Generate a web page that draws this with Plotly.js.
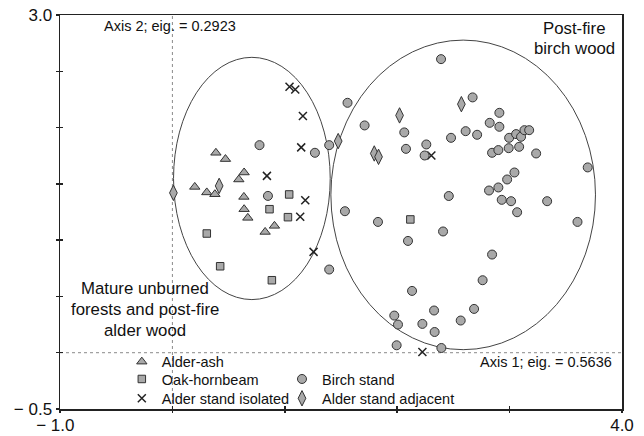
<!DOCTYPE html>
<html>
<head>
<meta charset="utf-8">
<script src="https://cdn.plot.ly/plotly-3.0.1.min.js"></script>
<style>html,body{margin:0;padding:0;background:#fff;}#chart{width:644px;height:436px;}</style>
</head>
<body>
<div id="chart"></div>
<script>
// ---- Data ----
const seriesNames = ['Alder-ash', 'Oak-hornbeam', 'Alder stand isolated', 'Birch stand', 'Alder stand adjacent'];

const alderAshX = [0.387, 0.472, 0.199, 0.306, 0.378, 0.638, 0.591, 0.636, 0.638, 0.671, 0.825, 0.908];
const alderAshY = [1.776, 1.720, 1.473, 1.424, 1.408, 1.601, 1.539, 1.384, 1.275, 1.198, 1.073, 1.127];

const oakHornbeamX = [1.039, 0.864, 1.028, 0.306, 0.425, 0.885, 2.117];
const oakHornbeamY = [1.406, 1.275, 1.204, 1.059, 0.768, 0.644, 1.184];

const alderIsolatedX = [1.042, 1.093, 1.161, 1.146, 0.841, 1.182, 1.137, 1.256, 2.304, 2.224];
const alderIsolatedY = [2.362, 2.339, 2.102, 1.824, 1.571, 1.355, 1.207, 0.896, 1.752, 0.007];

const birchX = [0.775, 1.268, 1.395, 0.850, 1.395, 2.390, 2.671, 1.558, 1.710, 2.909,
                2.823, 2.909, 2.063, 2.609, 2.711, 2.479, 2.996, 3.058, 3.102, 3.132,
                3.174, 2.078, 2.259, 2.244, 2.844, 2.900, 2.992, 3.085, 3.236, 3.695,
                3.043, 2.978, 2.900, 2.817, 2.459, 2.930, 3.013, 3.334, 3.067, 1.535,
                1.829, 3.604, 2.408, 2.096, 2.844, 2.760, 2.132, 2.328, 2.684, 1.974,
                2.007, 2.224, 2.565, 2.333, 1.995, 2.393];
const birchY = [1.844, 1.776, 1.844, 1.393, 0.739, 2.608, 2.268, 2.220, 2.019, 2.131,
                2.042, 2.007, 1.957, 1.968, 1.936, 1.909, 1.909, 1.942, 1.918, 1.977,
                1.977, 1.811, 1.850, 1.752, 1.776, 1.800, 1.817, 1.829, 1.770, 1.646,
                1.601, 1.539, 1.468, 1.441, 1.392, 1.358, 1.346, 1.346, 1.248, 1.257,
                1.162, 1.162, 1.077, 0.993, 0.872, 0.644, 0.549, 0.375, 0.389, 0.330,
                0.250, 0.256, 0.286, 0.184, 0.066, 0.042];

const alderAdjacentX = [0.009, 0.416, 1.475, 2.571, 2.021, 1.796, 1.834];
const alderAdjacentY = [1.420, 1.482, 1.880, 2.208, 2.108, 1.770, 1.740];

// group ellipses: centre x, centre y, radius x, radius y
const ellipseCx = [0.707, 2.587];
const ellipseCy = [1.548, 1.402];
const ellipseRx = [0.697, 1.177];
const ellipseRy = [1.076, 1.375];

const xTickVals = [-1, 0, 1, 2, 3, 4];
const xTickText = ['\u2212 1.0\u00a0\u00a0', '', '', '', '', '4.0'];
const yTickVals = [-0.5, 0, 0.5, 1, 1.5, 2, 2.5, 3];
const yTickText = ['\u2212 0.5', '', '', '', '', '', '', '3.0'];

const matureLines = ['Mature unburned', 'forests and post-fire', 'alder wood'];
const birchLines = ['Post-fire', 'birch wood'];
const axisLabels = ['Axis 1; eig. = 0.5636', 'Axis 2; eig. = 0.2923'];

// ---- Styling ----
const FONT = 'Liberation Sans, Arial, Helvetica, sans-serif';
const FILL = '#a9a9a9';
const EDGE = '#333333';

const traces = [
  {x: alderAshX, y: alderAshY, name: seriesNames[0], type: 'scatter', mode: 'markers', legend: 'legend',
   marker: {symbol: 'triangle-up', size: 9, color: FILL, line: {color: EDGE, width: 1}}},
  {x: oakHornbeamX, y: oakHornbeamY, name: seriesNames[1], type: 'scatter', mode: 'markers', legend: 'legend2',
   marker: {symbol: 'square', size: 7.5, color: FILL, line: {color: EDGE, width: 1}}},
  {x: alderIsolatedX, y: alderIsolatedY, name: seriesNames[2], type: 'scatter', mode: 'markers', legend: 'legend3',
   marker: {symbol: 'x-thin', size: 8, color: '#222', line: {color: '#222', width: 1.5}}},
  {x: birchX, y: birchY, name: seriesNames[3], type: 'scatter', mode: 'markers', legend: 'legend4',
   marker: {symbol: 'circle', size: 9, color: FILL, line: {color: EDGE, width: 1}}},
  {x: alderAdjacentX, y: alderAdjacentY, name: seriesNames[4], type: 'scatter', mode: 'markers', legend: 'legend5',
   marker: {symbol: 'diamond-tall', size: 11, color: FILL, line: {color: EDGE, width: 1}}},
  {x: [], y: [], xaxis: 'x2', yaxis: 'y2', type: 'scatter', mode: 'markers', showlegend: false, hoverinfo: 'skip'}
];

const shapes = [
  {type: 'line', xref: 'x', yref: 'paper', x0: 0, x1: 0, y0: 0, y1: 1, layer: 'below',
   line: {color: '#8a8a8a', width: 1, dash: 'dot'}},
  {type: 'line', xref: 'paper', yref: 'y', x0: 0, x1: 1, y0: 0, y1: 0, layer: 'below',
   line: {color: '#8a8a8a', width: 1, dash: 'dot'}}
];
for (let i = 0; i < ellipseCx.length; i++) {
  shapes.push({type: 'circle', xref: 'x', yref: 'y', layer: 'below',
    x0: ellipseCx[i] - ellipseRx[i], x1: ellipseCx[i] + ellipseRx[i],
    y0: ellipseCy[i] - ellipseRy[i], y1: ellipseCy[i] + ellipseRy[i],
    line: {color: '#444', width: 1}});
}

const legFont = {family: FONT, size: 14.5, color: '#111'};
function leg(x, y) {
  return {x: x, y: y, xanchor: 'left', yanchor: 'middle', bgcolor: 'rgba(0,0,0,0)',
          borderwidth: 0, font: legFont, itemclick: false, itemdoubleclick: false};
}

const labFont = {family: FONT, size: 16.8, color: '#111'};
const annotations = [
  {xref: 'paper', yref: 'paper', x: 0.074, y: 0.972, xanchor: 'left', yanchor: 'middle',
   text: axisLabels[1], showarrow: false, font: {family: FONT, size: 14.5, color: '#111'}},
  {xref: 'paper', yref: 'paper', x: 0.986, y: 0.1185, xanchor: 'right', yanchor: 'middle',
   text: axisLabels[0], showarrow: false, font: {family: FONT, size: 14.5, color: '#111'}}
];
const birchLineY = [0.9657, 0.9150];
birchLines.forEach((t, i) => annotations.push({xref: 'paper', yref: 'paper', x: 0.9146, y: birchLineY[i],
  xanchor: 'center', yanchor: 'middle', text: t, showarrow: false, font: labFont}));
const matureLineY = [0.3046, 0.2513, 0.2005];
matureLines.forEach((t, i) => annotations.push({xref: 'paper', yref: 'paper', x: 0.1504, y: matureLineY[i],
  xanchor: 'center', yanchor: 'middle', text: t, showarrow: false, font: labFont}));

const layout = {
  width: 644, height: 436,
  margin: {l: 60, r: 22, t: 15, b: 27, pad: 0},
  paper_bgcolor: '#fff', plot_bgcolor: '#fff',
  font: {family: FONT, size: 17, color: '#111'},
  showlegend: true,
  xaxis: {range: [-1, 4], showgrid: false, zeroline: false, showline: true, mirror: true,
          linecolor: '#222', linewidth: 1.5, ticks: 'inside', ticklen: 3, tickwidth: 1.5, tickcolor: '#222',
          tickmode: 'array', tickvals: xTickVals, ticktext: xTickText,
          tickfont: {family: FONT, size: 17, color: '#111'}, fixedrange: true},
  yaxis: {range: [-0.5, 3.0], showgrid: false, zeroline: false, showline: true, mirror: true,
          linecolor: '#222', linewidth: 1.5, ticks: 'outside', ticklen: 3, tickwidth: 1.5, tickcolor: '#222',
          tickmode: 'array', tickvals: yTickVals, ticktext: yTickText,
          tickfont: {family: FONT, size: 17, color: '#111'}, fixedrange: true},
  xaxis2: {range: [-1, 4], overlaying: 'x', anchor: 'y2', side: 'bottom', showgrid: false, zeroline: false,
           showline: false, ticks: 'outside', ticklen: 3, tickwidth: 1.5, tickcolor: '#222',
           tickmode: 'array', tickvals: xTickVals, showticklabels: false, fixedrange: true},
  yaxis2: {range: [-0.5, 3.0], overlaying: 'y', anchor: 'x2', side: 'left', showgrid: false, zeroline: false,
           showline: false, ticks: 'inside', ticklen: 3, tickwidth: 1.5, tickcolor: '#222',
           tickmode: 'array', tickvals: yTickVals, showticklabels: false, fixedrange: true},
  legend: leg(0.110, 0.120),
  legend2: leg(0.110, 0.076),
  legend3: leg(0.110, 0.027),
  legend4: leg(0.395, 0.076),
  legend5: leg(0.395, 0.027),
  shapes: shapes,
  annotations: annotations
};

Plotly.newPlot('chart', traces, layout, {displayModeBar: false, staticPlot: true});
</script>
</body>
</html>
